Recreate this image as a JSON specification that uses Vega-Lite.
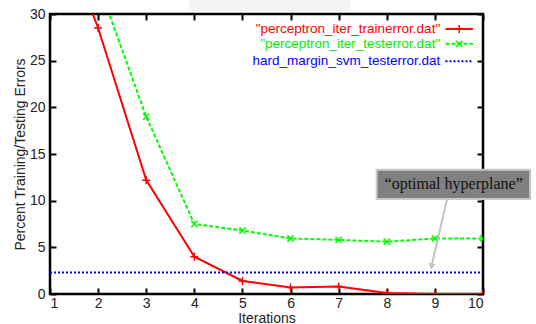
{
  "$schema": "https://vega.github.io/schema/vega-lite/v6.json",
  "width": 433,
  "height": 280,
  "autosize": "none",
  "padding": {"left": 50, "top": 14, "right": 53, "bottom": 30},
  "background": "white",
  "config": {
    "view": {"stroke": "black", "strokeWidth": 2.5},
    "axis": {
      "domain": false, "grid": false,
      "labelFont": "Liberation Sans", "labelFontSize": 14, "labelColor": "#222",
      "titleFont": "Liberation Sans", "titleFontSize": 14, "titleFontWeight": "normal", "titleColor": "#222",
      "tickColor": "black", "tickWidth": 2, "tickSize": -6
    }
  },
  "datasets": {
    "errors": [
      {"iter": 1, "error": 42, "series": "train"},
      {"iter": 2, "error": 28.5, "series": "train"},
      {"iter": 3, "error": 12.2, "series": "train"},
      {"iter": 4, "error": 4.0, "series": "train"},
      {"iter": 5, "error": 1.4, "series": "train"},
      {"iter": 6, "error": 0.7, "series": "train"},
      {"iter": 7, "error": 0.8, "series": "train"},
      {"iter": 8, "error": 0.1, "series": "train"},
      {"iter": 9, "error": 0.0, "series": "train"},
      {"iter": 10, "error": 0.0, "series": "train"},
      {"iter": 1, "error": 48, "series": "test"},
      {"iter": 2, "error": 33.3, "series": "test"},
      {"iter": 3, "error": 19.0, "series": "test"},
      {"iter": 4, "error": 7.5, "series": "test"},
      {"iter": 5, "error": 6.8, "series": "test"},
      {"iter": 6, "error": 5.95, "series": "test"},
      {"iter": 7, "error": 5.8, "series": "test"},
      {"iter": 8, "error": 5.6, "series": "test"},
      {"iter": 9, "error": 5.95, "series": "test"},
      {"iter": 10, "error": 5.95, "series": "test"},
      {"iter": 1, "error": 2.3, "series": "svm"},
      {"iter": 10, "error": 2.3, "series": "svm"}
    ]
  },
  "data": {"name": "errors"},
  "resolve": {"axis": {"x": "independent", "y": "independent"}},
  "layer": [
    {
      "transform": [{"filter": "datum.series === 'train'"}],
      "mark": {"type": "line", "stroke": "#ff0000", "strokeWidth": 2, "clip": true},
      "encoding": {
        "x": {"field": "iter", "type": "quantitative", "scale": {"domain": [1, 10], "nice": false, "zero": false},
              "axis": {"orient": "bottom", "values": [1,2,3,4,5,6,7,8,9,10], "title": "Iterations", "labelPadding": 8, "titlePadding": 1}},
        "y": {"field": "error", "type": "quantitative", "scale": {"domain": [0, 30], "nice": false},
              "axis": {"orient": "left", "values": [0,5,10,15,20,25,30], "title": "Percent Training/Testing Errors", "labelPadding": 11, "titlePadding": 2}}
      }
    },
    {
      "transform": [{"filter": "datum.series === 'train'"}],
      "mark": {"type": "point", "shape": "M-1,0H1M0,-1V1", "filled": false, "stroke": "#ff0000", "strokeWidth": 1.5, "size": 64, "opacity": 1, "clip": true},
      "encoding": {
        "x": {"field": "iter", "type": "quantitative", "axis": {"orient": "top", "values": [1,2,3,4,5,6,7,8,9,10], "labels": false, "title": null}},
        "y": {"field": "error", "type": "quantitative", "axis": {"orient": "right", "values": [0,5,10,15,20,25,30], "labels": false, "title": null}}
      }
    },
    {
      "transform": [{"filter": "datum.series === 'test'"}],
      "mark": {"type": "line", "stroke": "#00ff00", "strokeWidth": 2, "strokeDash": [4, 2], "clip": true},
      "encoding": {
        "x": {"field": "iter", "type": "quantitative", "axis": null},
        "y": {"field": "error", "type": "quantitative", "axis": null}
      }
    },
    {
      "transform": [{"filter": "datum.series === 'test'"}],
      "mark": {"type": "point", "shape": "M-1,-1L1,1M-1,1L1,-1", "filled": false, "stroke": "#00ff00", "strokeWidth": 1.5, "size": 40, "opacity": 1, "clip": true},
      "encoding": {
        "x": {"field": "iter", "type": "quantitative", "axis": null},
        "y": {"field": "error", "type": "quantitative", "axis": null}
      }
    },
    {
      "transform": [{"filter": "datum.series === 'svm'"}],
      "mark": {"type": "line", "stroke": "#0000ff", "strokeWidth": 2, "strokeDash": [2, 2], "clip": true},
      "encoding": {
        "x": {"field": "iter", "type": "quantitative", "axis": null},
        "y": {"field": "error", "type": "quantitative", "axis": null}
      }
    },
    {
      "data": {"values": [{"label": "\"perceptron_iter_trainerror.dat\""}]},
      "mark": {"type": "text", "align": "right", "baseline": "middle", "font": "Liberation Sans", "fontSize": 13.5, "fill": "#ff0000"},
      "encoding": {"x": {"datum": 9.11, "type": "quantitative", "axis": null}, "y": {"datum": 28.4, "type": "quantitative", "axis": null}, "text": {"field": "label"}}
    },
    {
      "data": {"values": [{"label": "\"perceptron_iter_testerror.dat\""}]},
      "mark": {"type": "text", "align": "right", "baseline": "middle", "font": "Liberation Sans", "fontSize": 13.5, "fill": "#00ee00"},
      "encoding": {"x": {"datum": 9.11, "type": "quantitative", "axis": null}, "y": {"datum": 26.8, "type": "quantitative", "axis": null}, "text": {"field": "label"}}
    },
    {
      "data": {"values": [{"label": "hard_margin_svm_testerror.dat"}]},
      "mark": {"type": "text", "align": "right", "baseline": "middle", "font": "Liberation Sans", "fontSize": 13.5, "fill": "#0000ff"},
      "encoding": {"x": {"datum": 9.11, "type": "quantitative", "axis": null}, "y": {"datum": 24.95, "type": "quantitative", "axis": null}, "text": {"field": "label"}}
    },
    {
      "data": {"values": [{}]},
      "mark": {"type": "rule", "stroke": "#ff0000", "strokeWidth": 2},
      "encoding": {"x": {"datum": 9.22, "type": "quantitative", "axis": null}, "x2": {"datum": 9.79}, "y": {"datum": 28.4, "type": "quantitative", "axis": null}}
    },
    {
      "data": {"values": [{}]},
      "mark": {"type": "point", "shape": "M-1,0H1M0,-1V1", "filled": false, "stroke": "#ff0000", "strokeWidth": 1.5, "size": 64, "opacity": 1},
      "encoding": {"x": {"datum": 9.505, "type": "quantitative", "axis": null}, "y": {"datum": 28.4, "type": "quantitative", "axis": null}}
    },
    {
      "data": {"values": [{}]},
      "mark": {"type": "rule", "stroke": "#00ff00", "strokeWidth": 2, "strokeDash": [4, 2]},
      "encoding": {"x": {"datum": 9.22, "type": "quantitative", "axis": null}, "x2": {"datum": 9.79}, "y": {"datum": 26.8, "type": "quantitative", "axis": null}}
    },
    {
      "data": {"values": [{}]},
      "mark": {"type": "point", "shape": "M-1,-1L1,1M-1,1L1,-1", "filled": false, "stroke": "#00ff00", "strokeWidth": 1.5, "size": 40, "opacity": 1},
      "encoding": {"x": {"datum": 9.505, "type": "quantitative", "axis": null}, "y": {"datum": 26.8, "type": "quantitative", "axis": null}}
    },
    {
      "data": {"values": [{}]},
      "mark": {"type": "rule", "stroke": "#0000ff", "strokeWidth": 2, "strokeDash": [2, 2]},
      "encoding": {"x": {"datum": 9.22, "type": "quantitative", "axis": null}, "x2": {"datum": 9.79}, "y": {"datum": 24.95, "type": "quantitative", "axis": null}}
    },
    {
      "data": {"values": [{}]},
      "mark": {"type": "rect", "fill": "#f4f4f4", "clip": false},
      "encoding": {"x": {"datum": 3.89, "type": "quantitative", "axis": null}, "x2": {"datum": 7.24}, "y": {"datum": 31.6, "type": "quantitative", "axis": null}, "y2": {"datum": 30.3}}
    },
    {
      "data": {"values": [{}]},
      "mark": {"type": "rule", "stroke": "#c4c4c4", "strokeWidth": 2, "clip": false},
      "encoding": {"x": {"datum": 9.25, "type": "quantitative", "axis": null}, "x2": {"datum": 8.94}, "y": {"datum": 10.1, "type": "quantitative", "axis": null}, "y2": {"datum": 3.2}}
    },
    {
      "data": {"values": [{}]},
      "mark": {"type": "point", "shape": "triangle-down", "filled": true, "fill": "#c4c4c4", "strokeWidth": 0, "size": 50, "angle": 13, "opacity": 1, "clip": false},
      "encoding": {"x": {"datum": 8.93, "type": "quantitative", "axis": null}, "y": {"datum": 2.95, "type": "quantitative", "axis": null}}
    },
    {
      "data": {"values": [{}]},
      "mark": {"type": "rect", "fill": "#808080", "stroke": "#c8c8c8", "strokeWidth": 2, "clip": false},
      "encoding": {"x": {"datum": 7.79, "type": "quantitative", "axis": null}, "x2": {"datum": 10.98}, "y": {"datum": 13.32, "type": "quantitative", "axis": null}, "y2": {"datum": 10.18}}
    },
    {
      "data": {"values": [{"label": "“optimal hyperplane”"}]},
      "mark": {"type": "text", "align": "center", "baseline": "middle", "font": "Liberation Serif", "fontSize": 16, "fill": "#111", "clip": false},
      "encoding": {"x": {"datum": 9.39, "type": "quantitative", "axis": null}, "y": {"datum": 11.75, "type": "quantitative", "axis": null}, "text": {"field": "label"}}
    }
  ]
}
